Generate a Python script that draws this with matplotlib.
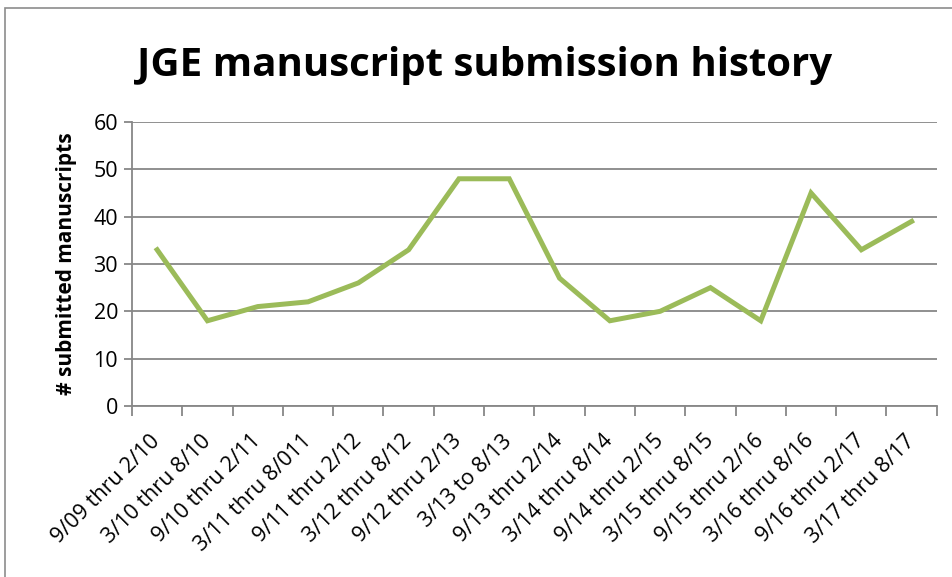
import matplotlib.pyplot as plt
from matplotlib.patches import Rectangle
from matplotlib.ticker import MultipleLocator

periods = ["9/09 thru 2/10", "3/10 thru 8/10", "9/10 thru 2/11", "3/11 thru 8/011",
           "9/11 thru 2/12", "3/12 thru 8/12", "9/12 thru 2/13", "3/13 to 8/13",
           "9/13 thru 2/14", "3/14 thru 8/14", "9/14 thru 2/15", "3/15 thru 8/15",
           "9/15 thru 2/16", "3/16 thru 8/16", "9/16 thru 2/17", "3/17 thru 8/17"]
submissions = [33, 18, 21, 22, 26, 33, 48, 48, 27, 18, 20, 25, 18, 45, 33, 39]

plt.rcParams['font.family'] = ['Open Sans', 'DejaVu Sans']

fig = plt.figure(figsize=(9.53, 5.77), dpi=100)
# chart frame (right and bottom edges run off the picture)
fig.patches.append(Rectangle((5 / 953, -0.1), 1.2, 1.1 - 8 / 577, transform=fig.transFigure,
                             fill=False, edgecolor='#8c8c8c', linewidth=1.2))

ax = fig.add_axes([0.1385, 0.2964, 0.983 - 0.1385, 0.7886 - 0.2964])
x = list(range(len(periods)))
ax.plot(x, submissions, color='#9bbb59', linewidth=3.6, solid_joinstyle='miter')

ax.set_xlim(-0.5, len(periods) - 0.5)
ax.set_ylim(0, 60)
ax.yaxis.set_major_locator(MultipleLocator(10))
ax.grid(axis='y', color='#878787', linewidth=1.3)
ax.set_axisbelow(True)

ax.set_xticks(x)
ax.set_xticklabels(periods, rotation=45, ha='right', va='center', rotation_mode='anchor', fontsize=15.5)
ax.set_xticks([i - 0.5 for i in range(len(periods) + 1)], minor=True)
ax.tick_params(axis='x', which='major', length=0, pad=23)
ax.tick_params(axis='x', which='minor', length=7, color='#878787', width=1.3)
ax.tick_params(axis='y', length=6, color='#878787', width=1.3, labelsize=15.5, pad=4)

for s in ['top', 'right']:
    ax.spines[s].set_visible(False)
for s in ['left', 'bottom']:
    ax.spines[s].set_color('#878787')
    ax.spines[s].set_linewidth(1.3)

ax.set_ylabel('# submitted manuscripts', fontsize=15, fontweight='bold', labelpad=12)
fig.text(0.508, 0.887, 'JGE manuscript submission history', ha='center', va='center',
         fontsize=29, fontweight='bold')

fig.savefig('out.png', dpi=100)
